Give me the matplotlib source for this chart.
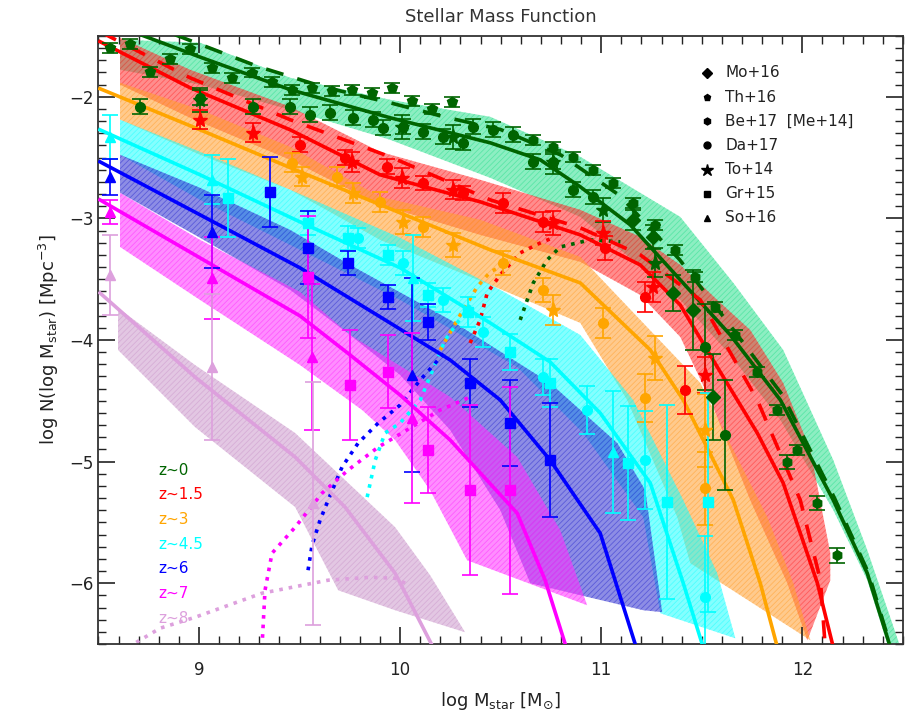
import matplotlib.pyplot as plt
from matplotlib.ticker import MultipleLocator

plt.rcParams['hatch.linewidth'] = 0.6

z_labels = ['z~0', 'z~1.5', 'z~3', 'z~4.5', 'z~6', 'z~7', 'z~8']
line_colors = ['#006400', '#ff0000', '#ffa500', '#00ffff', '#0000ff', '#ff00ff', '#dda0dd']
band_colors = ['#30e090', '#ff3030', '#ffa030', '#20ffff', '#3030d0', '#ff30ff', '#cc99cc']

# model curves (solid), one per redshift bin
model_x = [
    [8.55, 8.682, 9.0, 9.453, 9.95, 10.448, 10.697, 10.896, 11.144, 11.393, 11.642, 11.891, 12.154, 12.323, 12.438],
    [8.507, 8.955, 9.453, 9.9, 10.398, 10.896, 11.194, 11.393, 11.577, 11.776, 11.905, 12.075, 12.154],
    [8.507, 9.005, 9.502, 10.0, 10.448, 10.896, 11.244, 11.408, 11.657, 11.791, 11.876],
    [8.507, 9.005, 9.502, 10.0, 10.448, 10.746, 10.995, 11.244, 11.408, 11.507],
    [8.507, 9.005, 9.502, 9.95, 10.249, 10.498, 10.746, 10.995, 11.174],
    [8.507, 9.005, 9.502, 9.751, 10.0, 10.249, 10.582, 10.721, 10.826],
    [8.507, 8.98, 9.478, 9.726, 9.975, 10.164],
]
model_y = [
    [-1.38, -1.473, -1.671, -1.942, -2.173, -2.379, -2.519, -2.741, -3.053, -3.506, -3.959, -4.494, -5.317, -5.918, -6.527],
    [-1.547, -1.926, -2.272, -2.642, -2.864, -3.136, -3.383, -3.712, -4.222, -4.765, -5.177, -6.0, -6.527],
    [-1.934, -2.272, -2.617, -2.955, -3.259, -3.531, -4.082, -4.494, -5.317, -6.0, -6.527],
    [-2.272, -2.642, -3.029, -3.407, -3.86, -4.181, -4.601, -5.177, -6.0, -6.527],
    [-2.535, -2.971, -3.407, -3.86, -4.165, -4.494, -4.988, -5.589, -6.527],
    [-2.848, -3.325, -3.802, -4.123, -4.453, -4.823, -5.424, -5.975, -6.527],
    [-3.613, -4.305, -4.963, -5.374, -5.918, -6.527],
]

# dashed variants (z~0, z~1.5)
dash_x = [
    [8.88, 9.29, 9.62, 9.95, 10.23, 10.5, 10.8, 11.09, 11.39, 11.65, 11.9, 12.16, 12.33, 12.44],
    [8.507, 8.955, 9.453, 9.95, 10.448, 10.896, 11.194, 11.493, 11.776, 11.99, 12.09, 12.114],
]
dash_y = [
    [-1.49, -1.75, -1.92, -2.05, -2.17, -2.27, -2.48, -2.81, -3.34, -3.9, -4.45, -5.3, -5.92, -6.527],
    [-1.465, -1.844, -2.189, -2.494, -2.848, -3.078, -3.30, -3.671, -4.494, -5.317, -5.975, -6.527],
]

# shaded uncertainty bands: upper and lower edges
band_up_x = [
    [8.607, 9.005, 9.453, 9.95, 10.448, 10.896, 11.393, 11.657, 11.905, 12.154, 12.323, 12.488],
    [8.607, 8.955, 9.453, 9.9, 10.398, 10.896, 11.194, 11.393, 11.577, 11.741, 11.905, 12.04, 12.139, 12.139],
    [8.607, 9.005, 9.453, 9.9, 10.398, 10.896, 11.194, 11.493, 11.657, 11.826, 11.955, 12.04],
    [8.607, 9.005, 9.453, 10.0, 10.498, 10.896, 11.159, 11.408, 11.577, 11.667],
    [8.607, 9.005, 9.453, 9.751, 10.249, 10.746, 11.08, 11.219, 11.303],
    [8.607, 9.005, 9.502, 9.751, 10.249, 10.582, 10.796, 10.93],
    [8.597, 8.98, 9.478, 9.975, 10.149, 10.323],
]
band_up_y = [
    [-1.531, -1.556, -1.844, -2.025, -2.165, -2.494, -2.988, -3.531, -4.082, -4.988, -5.728, -6.527],
    [-1.514, -1.778, -2.082, -2.453, -2.683, -2.93, -3.152, -3.383, -3.671, -3.918, -4.354, -4.905, -5.753, -5.975],
    [-1.885, -2.107, -2.412, -2.823, -3.012, -3.317, -3.835, -4.354, -4.905, -5.457, -6.0, -6.469],
    [-2.189, -2.453, -2.765, -3.16, -3.588, -3.959, -4.494, -5.317, -5.918, -6.453],
    [-2.477, -2.749, -3.095, -3.383, -3.835, -4.354, -4.848, -5.235, -6.238],
    [-2.79, -3.177, -3.605, -3.959, -4.469, -4.963, -5.564, -6.181],
    [-3.737, -4.206, -4.765, -5.539, -5.934, -6.403],
]
band_lo_x = [
    [8.607, 9.005, 9.453, 9.95, 10.448, 10.896, 11.144, 11.393, 11.642, 11.891, 12.154, 12.323, 12.428],
    [8.607, 8.955, 9.453, 9.9, 10.398, 10.896, 11.194, 11.393, 11.542, 11.741, 11.925, 12.025],
    [8.607, 9.005, 9.453, 9.9, 10.448, 10.896, 11.129, 11.378, 11.443, 12.04],
    [8.607, 9.005, 9.453, 10.0, 10.582, 10.91, 11.209, 11.294, 11.667],
    [8.607, 9.005, 9.453, 9.751, 10.0, 10.249, 10.498, 10.647, 11.209, 11.303],
    [8.607, 9.005, 9.502, 9.811, 9.975, 10.149, 10.333, 10.93],
    [8.597, 8.98, 9.478, 9.692, 9.975, 10.323],
]
band_lo_y = [
    [-1.778, -1.901, -2.107, -2.354, -2.667, -2.988, -3.325, -3.671, -4.123, -4.658, -5.399, -5.975, -6.527],
    [-1.901, -2.173, -2.519, -2.889, -3.136, -3.358, -3.63, -3.975, -4.494, -5.317, -6.0, -6.469],
    [-2.189, -2.477, -2.765, -3.177, -3.547, -3.86, -4.494, -5.457, -5.835, -6.469],
    [-2.477, -2.848, -3.218, -3.671, -4.222, -4.765, -5.457, -6.247, -6.453],
    [-2.79, -3.16, -3.588, -3.959, -4.288, -4.741, -5.399, -6.0, -6.222, -6.238],
    [-3.235, -3.671, -4.206, -4.576, -4.823, -5.235, -5.811, -6.181],
    [-4.082, -4.716, -5.374, -6.058, -6.222, -6.403],
]

# dotted curves, one per redshift bin
dot_x = [
    [10.597, 10.632, 10.662, 10.731, 10.796, 10.945, 11.095],
    [10.348, 10.398, 10.433, 10.498, 10.597, 10.697, 10.771],
    [10.199, 10.299, 10.383, 10.448, 10.547],
    [9.836, 9.876, 9.925, 10.0, 10.1, 10.224, 10.348],
    [9.542, 9.562, 9.602, 9.642, 9.711, 9.791, 9.891, 10.0, 10.1, 10.224],
    [9.313, 9.328, 9.363, 9.478, 9.612, 9.741, 9.891, 9.975, 10.199, 10.348],
    [8.647, 8.806, 8.98, 9.313, 9.642, 9.851, 9.975, 10.025],
]
dot_y = [
    [-3.835, -3.671, -3.531, -3.342, -3.235, -3.177, -3.193],
    [-4.025, -3.835, -3.613, -3.465, -3.284, -3.202, -3.152],
    [-4.082, -3.794, -3.564, -3.44, -3.358],
    [-5.292, -4.988, -4.765, -4.683, -4.494, -4.0, -3.712],
    [-5.893, -5.687, -5.481, -5.317, -5.045, -4.848, -4.683, -4.535, -4.329, -4.099],
    [-6.527, -6.058, -5.753, -5.539, -5.259, -5.07, -4.881, -4.798, -4.576, -4.469],
    [-6.527, -6.37, -6.28, -6.082, -5.975, -5.951, -5.959, -6.0],
]

# observational data: (z bin, survey) -> x, y, err
surveys = ['Mo+16', 'Th+16', 'Be+17  [Me+14]', 'Da+17', 'To+14', 'Gr+15', 'So+16']
survey_markers = ['D', 'p', 'h', 'o', '*', 's', '^']

z0_mo_x = [11.159, 11.259, 11.358, 11.458, 11.557]
z0_mo_y = [-3.012, -3.152, -3.613, -3.753, -4.469]
z0_mo_e = [0.08, 0.1, 0.15, 0.33, 0.35]
z0_th_x = [8.557, 8.657, 8.756, 8.856, 8.955, 9.065, 9.164, 9.264, 9.363, 9.463, 9.562, 9.662, 9.761, 9.861, 9.96, 10.06, 10.159, 10.259]
z0_th_y = [-1.597, -1.564, -1.794, -1.687, -1.605, -1.761, -1.844, -1.802, -1.877, -1.942, -1.926, -1.951, -1.942, -1.967, -1.926, -2.033, -2.099, -2.041]
z0_th_e = [0.04] * 18
z0_be_x = [10.662, 10.761, 10.861, 10.96, 11.06, 11.159, 11.269, 11.368, 11.468, 11.567, 11.667, 11.776, 11.876, 11.975, 11.925, 12.075, 12.174]
z0_be_y = [-2.354, -2.412, -2.494, -2.601, -2.708, -2.872, -3.053, -3.259, -3.481, -3.728, -3.959, -4.263, -4.576, -4.905, -5.004, -5.342, -5.77]
z0_be_e = [0.04] * 14 + [0.06, 0.06, 0.06]
z0_da_x = [8.706, 9.005, 9.269, 9.453, 9.552, 9.652, 9.766, 9.866, 9.915, 10.015, 10.114, 10.214, 10.313, 10.363, 10.463, 10.562, 10.662, 10.761, 10.861, 10.96, 11.517, 11.617]
z0_da_y = [-2.082, -2.008, -2.082, -2.082, -2.148, -2.132, -2.173, -2.189, -2.255, -2.247, -2.288, -2.329, -2.379, -2.247, -2.272, -2.313, -2.535, -2.535, -2.765, -2.823, -4.058, -4.782]
z0_da_e = [0.06] * 20 + [0.35, 0.45]
z0_to_x = [9.005, 10.01, 10.264, 10.761, 11.01, 11.269]
z0_to_y = [-2.025, -2.247, -2.329, -2.535, -2.93, -3.366]
z0_to_e = [0.1, 0.1, 0.1, 0.1, 0.1, 0.12]

z1_to_x = [9.005, 9.269, 9.761, 10.01, 10.264, 10.761, 11.01, 11.259, 11.517]
z1_to_y = [-2.189, -2.296, -2.535, -2.667, -2.765, -3.037, -3.119, -3.564, -4.288]
z1_to_e = [0.08, 0.08, 0.08, 0.08, 0.08, 0.1, 0.1, 0.12, 0.15]
z1_da_x = [9.502, 9.726, 9.935, 10.114, 10.313, 10.512, 10.711, 11.02, 11.219, 11.418]
z1_da_y = [-2.395, -2.502, -2.576, -2.708, -2.79, -2.872, -3.029, -3.243, -3.646, -4.412]
z1_da_e = [0.06, 0.06, 0.06, 0.06, 0.06, 0.08, 0.08, 0.1, 0.12, 0.2]

z3_da_x = [9.463, 9.687, 9.9, 10.114, 10.512, 10.711, 11.01, 11.219, 11.517]
z3_da_y = [-2.543, -2.658, -2.864, -3.07, -3.366, -3.588, -3.86, -4.477, -5.218]
z3_da_e = [0.08, 0.08, 0.08, 0.08, 0.1, 0.1, 0.12, 0.2, 0.3]
z3_to_x = [9.512, 9.766, 10.015, 10.264, 10.761, 11.269, 11.517]
z3_to_y = [-2.658, -2.79, -3.029, -3.218, -3.753, -4.148, -4.741]
z3_to_e = [0.08, 0.08, 0.1, 0.1, 0.12, 0.18, 0.3]

z45_so_x = [8.557, 9.065, 10.065, 11.06]
z45_so_y = [-2.329, -2.683, -3.49, -4.922]
z45_so_e = [0.18, 0.2, 0.35, 0.5]
z45_gr_x = [9.144, 9.542, 9.741, 9.94, 10.139, 10.338, 10.547, 10.746, 11.134, 11.328, 11.532]
z45_gr_y = [-2.831, -3.037, -3.16, -3.3, -3.63, -3.77, -4.099, -4.354, -5.012, -5.333, -5.333]
z45_gr_e = [0.32, 0.1, 0.1, 0.08, 0.1, 0.12, 0.15, 0.2, 0.47, 0.8, 0.9]
z45_da_x = [9.791, 10.015, 10.214, 10.413, 10.711, 10.93, 11.219, 11.517]
z45_da_y = [-3.16, -3.366, -3.671, -3.934, -4.305, -4.576, -4.988, -6.115]
z45_da_e = [0.08, 0.1, 0.1, 0.12, 0.15, 0.2, 0.4, 0.5]

z6_so_x = [8.557, 9.065, 10.06]
z6_so_y = [-2.658, -3.111, -4.288]
z6_so_e = [0.15, 0.3, 0.8]
z6_gr_x = [9.353, 9.542, 9.741, 9.94, 10.139, 10.348, 10.547, 10.746]
z6_gr_y = [-2.782, -3.243, -3.366, -3.646, -3.852, -4.354, -4.683, -4.988]
z6_gr_e = [0.29, 0.3, 0.1, 0.1, 0.15, 0.2, 0.35, 0.47]

z7_so_x = [8.557, 9.065, 9.562, 10.06]
z7_so_y = [-2.947, -3.49, -4.14, -4.642]
z7_so_e = [0.1, 0.34, 0.6, 0.7]
z7_gr_x = [9.542, 9.751, 9.94, 10.139, 10.348, 10.547]
z7_gr_y = [-3.481, -4.37, -4.263, -4.905, -5.235, -5.235]
z7_gr_e = [0.5, 0.45, 0.3, 0.35, 0.7, 0.85]

z8_so_x = [8.557, 9.065, 9.567]
z8_so_y = [-3.465, -4.222, -5.342]
z8_so_e = [0.33, 0.6, 1.0]

points = [
    (0, 0, z0_mo_x, z0_mo_y, z0_mo_e), (0, 1, z0_th_x, z0_th_y, z0_th_e),
    (0, 2, z0_be_x, z0_be_y, z0_be_e), (0, 3, z0_da_x, z0_da_y, z0_da_e),
    (0, 4, z0_to_x, z0_to_y, z0_to_e),
    (1, 4, z1_to_x, z1_to_y, z1_to_e), (1, 3, z1_da_x, z1_da_y, z1_da_e),
    (2, 3, z3_da_x, z3_da_y, z3_da_e), (2, 4, z3_to_x, z3_to_y, z3_to_e),
    (3, 6, z45_so_x, z45_so_y, z45_so_e), (3, 5, z45_gr_x, z45_gr_y, z45_gr_e),
    (3, 3, z45_da_x, z45_da_y, z45_da_e),
    (4, 6, z6_so_x, z6_so_y, z6_so_e), (4, 5, z6_gr_x, z6_gr_y, z6_gr_e),
    (5, 6, z7_so_x, z7_so_y, z7_so_e), (5, 5, z7_gr_x, z7_gr_y, z7_gr_e),
    (6, 6, z8_so_x, z8_so_y, z8_so_e),
]

fig = plt.figure(figsize=(9.12, 7.18), dpi=100)
ax = fig.add_axes([0.108, 0.103, 0.882, 0.847])

for i in range(7):
    xs = band_up_x[i] + band_lo_x[i][::-1]
    ys = band_up_y[i] + band_lo_y[i][::-1]
    ax.fill(xs, ys, facecolor=band_colors[i], alpha=0.55, edgecolor=band_colors[i],
            hatch='//////', linewidth=0, zorder=1 + i * 0.01)

for i in range(7):
    ax.plot(dot_x[i], dot_y[i], ':', color=line_colors[i], lw=2.6, zorder=2)
    ax.plot(model_x[i], model_y[i], '-', color=line_colors[i], lw=2.6, zorder=3)
for i in range(2):
    ax.plot(dash_x[i], dash_y[i], '--', color=line_colors[i], lw=2.6, dashes=(5, 4), zorder=3)

for zi, si, xs, ys, es in points:
    ms = 11 if survey_markers[si] == '*' else 7
    ax.errorbar(xs, ys, yerr=es, fmt=survey_markers[si], color=line_colors[zi], ms=ms,
                capsize=6, elinewidth=1.2, capthick=1.2, zorder=4)

for i, lab in enumerate(z_labels):
    ax.text(8.796, -5.07 - 0.203 * i, lab, color=line_colors[i], fontsize=11,
            va='center', ha='left', zorder=5)

for k, name in enumerate(surveys):
    yy = 0.939 - 0.0397 * k
    ms = 9 if survey_markers[k] == '*' else 5
    ax.plot([0.756], [yy], survey_markers[k], color='black', ms=ms, transform=ax.transAxes)
    ax.text(0.779, yy, name, transform=ax.transAxes, fontsize=11, va='center', color='#222222')

ax.set_xlim(8.5, 12.5)
ax.set_ylim(-6.5, -1.5)
ax.set_xticks([9, 10, 11, 12])
ax.set_yticks([-2, -3, -4, -5, -6])
ax.xaxis.set_minor_locator(MultipleLocator(0.1))
ax.yaxis.set_minor_locator(MultipleLocator(0.1))
ax.tick_params(which='both', direction='in', top=True, right=True, labelsize=12, colors='#222222')
ax.tick_params(which='major', length=12, width=1.2)
ax.tick_params(which='minor', length=6, width=1)
ax.tick_params(axis='x', pad=12)
for sp in ax.spines.values():
    sp.set_linewidth(1.3)
    sp.set_color('#333333')

ax.set_title('Stellar Mass Function', fontsize=13, color='#333333', pad=10)
ax.set_xlabel(r'log M$_{\rm star}$ [M$_{\odot}$]', fontsize=13, color='#222222', labelpad=8)
ax.set_ylabel(r'log N(log M$_{\rm star}$) [Mpc$^{-3}$]', fontsize=13, color='#222222', labelpad=6)

fig.savefig('out.png', dpi=100)
